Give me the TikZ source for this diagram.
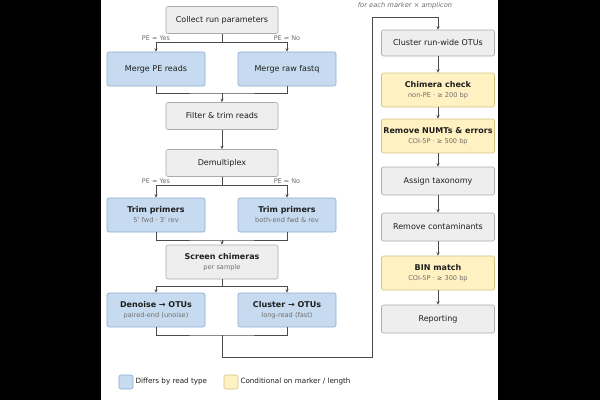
\documentclass[tikz,border=0pt]{standalone}
\usepackage{fontspec}
\setmainfont{DejaVu Sans}
\usetikzlibrary{arrows.meta, positioning, calc}
\definecolor{gfill}{HTML}{EEEEEE}
\definecolor{gline}{HTML}{ABABAB}
\definecolor{bfill}{HTML}{C6DBEF}
\definecolor{bline}{HTML}{8EABCF}
\definecolor{yfill}{HTML}{FFF1C1}
\definecolor{yline}{HTML}{D6C27F}
\definecolor{ink}{HTML}{1E1E1E}
\definecolor{subink}{HTML}{6E6E6E}
\definecolor{wire}{HTML}{4A4A4A}
\newcommand{\stage}[2]{\textbf{#1}\\[0pt]{\fontsize{6.6}{8}\selectfont\color{subink}#2}}

\begin{document}
\begin{tikzpicture}[x=1pt, y=-1pt,
    box/.style={draw, rounded corners=2pt, line width=0.6pt, inner sep=0pt,
      align=center, text=ink, font=\fontsize{8}{10}\selectfont},
    gbox/.style={box, fill=gfill, draw=gline, minimum width=112pt, minimum height=27pt},
    bbox/.style={box, fill=bfill, draw=bline, minimum width=98pt, minimum height=34pt},
    ybox/.style={box, fill=yfill, draw=yline, minimum width=113pt, minimum height=34pt},
    wbox/.style={gbox, minimum width=113pt},
    pelabel/.style={above, inner sep=1.5pt, text=subink, font=\fontsize{6.5}{7}\selectfont},
    wireline/.style={draw=wire, line width=0.8pt},
    arr/.style={wireline, -{Stealth[length=3.5pt, width=3pt]}}]

    % --- Frame (page letterbox) ---
    \useasboundingbox (0,0) rectangle (600,400);
    \fill[black] (0,0) rectangle (600,400);
    \fill[white] (101,0) rectangle (498,400);

    % --- Per-sample column ---
    \node[gbox] (collect) at (222,20) {Collect run parameters};
    \node[bbox] (mergepe) at (156,69) {Merge PE reads};
    \node[bbox] (mergeraw) at (287,69) {Merge raw fastq};
    \node[gbox] (filter) at (222,116) {Filter \& trim reads};
    \node[gbox] (demux) at (222,163) {Demultiplex};
    \node[bbox] (trimpe) at (156,215) {\stage{Trim primers}{5' fwd · 3' rev}};
    \node[bbox] (trimraw) at (287,215) {\stage{Trim primers}{both-end fwd \& rev}};
    \node[gbox, minimum height=34pt] (screen) at (222,262) {\stage{Screen chimeras}{per sample}};
    \node[bbox] (denoise) at (156,310) {\stage{Denoise → OTUs}{paired-end (unoise)}};
    \node[bbox] (clusterlr) at (287,310) {\stage{Cluster → OTUs}{long-read (fast)}};

    % --- Run-wide column ---
    \node[text=subink, font=\itshape\fontsize{6.7}{8}\selectfont] (loopnote) at (405,6)
      {for each marker × amplicon};
    \node[wbox, minimum height=26pt] (runwide) at (438,43) {Cluster run-wide OTUs};
    \node[ybox] (chimcheck) at (438,90) {\stage{Chimera check}{non-PE · ≥ 200 bp}};
    \node[ybox] (numts) at (438,136) {\stage{Remove NUMTs \& errors}{COI-5P · ≥ 500 bp}};
    \node[wbox, minimum height=28pt] (taxonomy) at (438,181) {Assign taxonomy};
    \node[wbox, minimum height=28pt] (contam) at (438,227) {Remove contaminants};
    \node[ybox] (binmatch) at (438,273) {\stage{BIN match}{COI-5P · ≥ 300 bp}};
    \node[wbox, minimum height=28pt] (report) at (438,319) {Reporting};

    % --- Branches on read type ---
    \draw[arr] (collect.south) -- ++(0,9) -| (mergepe.north)
      node[pelabel, pos=0.5] {PE = Yes};
    \draw[arr] (collect.south) -- ++(0,9) -| (mergeraw.north)
      node[pelabel, pos=0.5] {PE = No};
    \coordinate (join1) at (222,93);
    \draw[wireline] (mergepe.south) |- (join1) -| (mergeraw.south);
    \draw[arr] (join1) -- (filter.north);
    \draw[arr] (filter) -- (demux);

    \draw[arr] (demux.south) -- ++(0,9) -| (trimpe.north)
      node[pelabel, pos=0.5] {PE = Yes};
    \draw[arr] (demux.south) -- ++(0,9) -| (trimraw.north)
      node[pelabel, pos=0.5] {PE = No};
    \coordinate (join2) at (222,240);
    \draw[wireline] (trimpe.south) |- (join2) -| (trimraw.south);
    \draw[arr] (join2) -- (screen.north);

    \draw[arr] (screen.south) -- ++(0,7) -| (denoise.north);
    \draw[arr] (screen.south) -- ++(0,7) -| (clusterlr.north);
    \coordinate (join3) at (222,335);
    \draw[wireline] (denoise.south) |- (join3) -| (clusterlr.south);

    % --- Loop into run-wide steps ---
    \coordinate (loopbot) at (372,357);
    \coordinate (looptop) at (372,17);
    \draw[arr] (join3) |- (loopbot) -- (looptop) -| (runwide.north);

    \foreach \a/\b in {runwide/chimcheck, chimcheck/numts, numts/taxonomy,
                       taxonomy/contam, contam/binmatch, binmatch/report}
      \draw[arr] (\a) -- (\b);

    % Legend
    \node[box, fill=bfill, draw=bline, minimum size=14pt] (keyblue) at (126,382) {};
    \node[right=2pt of keyblue, inner sep=0pt, text=ink, font=\fontsize{7.2}{8}\selectfont]
      (keybluetext) {Differs by read type};
    \node[box, fill=yfill, draw=yline, minimum size=14pt] (keyyellow) at (231,382) {};
    \node[right=2pt of keyyellow, inner sep=0pt, text=ink, font=\fontsize{7.2}{8}\selectfont]
      (keyyellowtext) {Conditional on marker / length};
\end{tikzpicture}
\end{document}
